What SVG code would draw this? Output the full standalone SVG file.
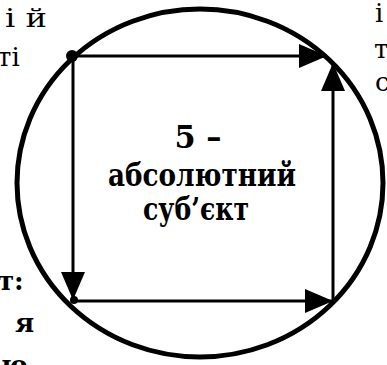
<svg xmlns="http://www.w3.org/2000/svg" width="387" height="365" viewBox="0 0 387 365">
<style>
.side{font-family:'DejaVu Serif',serif;font-size:26px;fill:#000}
.b{font-weight:bold}
.main{font-family:'DejaVu Serif',serif;font-size:31px;font-weight:bold;fill:#000;text-anchor:middle}
.ln{stroke:#000;stroke-width:3;fill:none}
</style>
<defs>
<marker id="ah" markerUnits="userSpaceOnUse" markerWidth="30" markerHeight="26" refX="28" refY="12" orient="auto">
<path d="M0,0 L28,12 L0,24 Z" fill="#000"/>
</marker>
</defs>
<g id="side-text">
<text class="side" x="5" y="27" textLength="42" lengthAdjust="spacingAndGlyphs">і й</text>
<text class="side" x="-3" y="66">ті</text>
<text class="side" x="375" y="22">і</text>
<text class="side" x="374" y="58">т</text>
<text class="side" x="375" y="91">с</text>
<text class="side b" x="-2" y="290">т:</text>
<text class="side b" x="15" y="332">я</text>
<text class="side b" x="1" y="374">ю</text>
</g>
<g id="circle">
<ellipse cx="200" cy="183" rx="183" ry="174" fill="none" stroke="#000" stroke-width="5"/>
</g>
<g id="connectors">
<line class="ln" x1="73" y1="56" x2="327" y2="56" marker-end="url(#ah)"/>
<line class="ln" x1="73" y1="56" x2="73" y2="300" marker-end="url(#ah)"/>
<line class="ln" x1="73" y1="301" x2="333" y2="301" marker-end="url(#ah)"/>
<line class="ln" x1="333" y1="301" x2="333" y2="63" marker-end="url(#ah)"/>
<circle cx="72" cy="56" r="6" fill="#000"/>
<circle cx="74" cy="300" r="4" fill="#000"/>
</g>
<g id="center-label">
<text class="main" x="198" y="148" textLength="47" lengthAdjust="spacingAndGlyphs">5 –</text>
<text class="main" x="202" y="186" textLength="188" lengthAdjust="spacingAndGlyphs">абсолютний</text>
<text class="main" x="196" y="220" textLength="106" lengthAdjust="spacingAndGlyphs">суб’єкт</text>
</g>
</svg>
